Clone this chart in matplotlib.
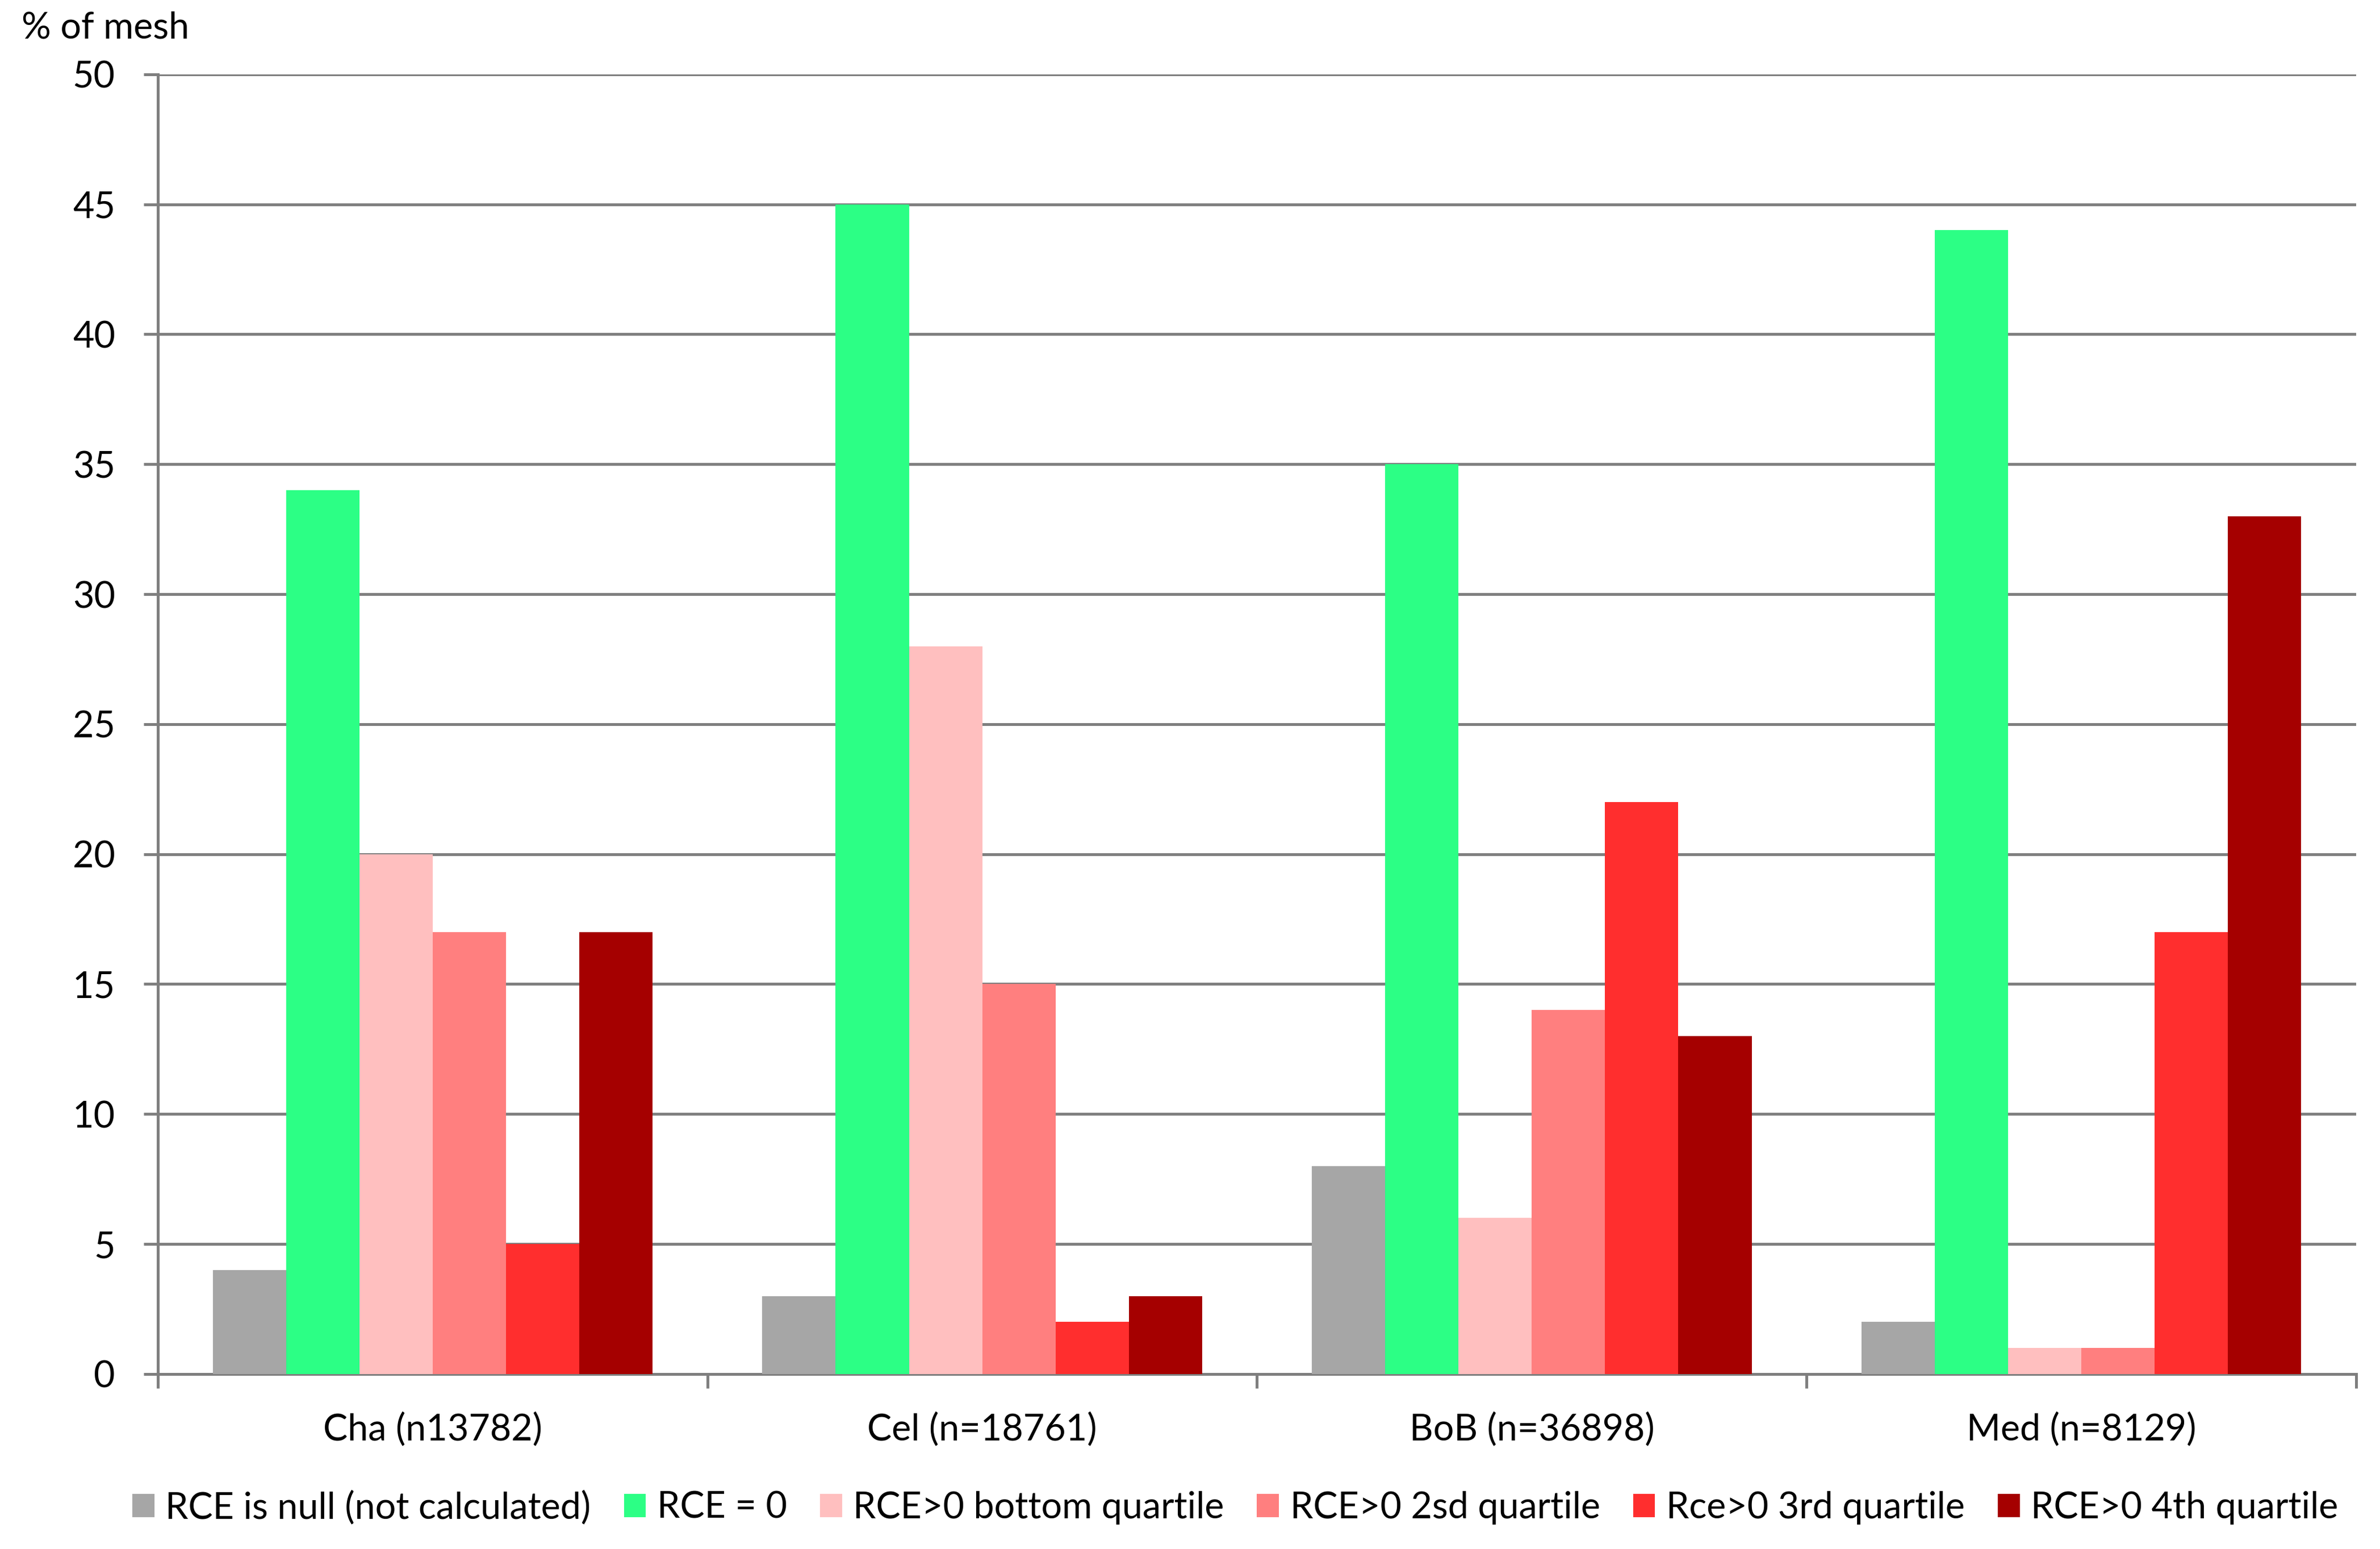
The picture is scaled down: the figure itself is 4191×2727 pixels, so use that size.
import numpy as np
from matplotlib import pyplot as plt

plt.rcParams['font.family'] = ['Lato', 'DejaVu Sans']

Regions = ['Cha (n13782)', 'Cel (n=18761)', 'BoB (n=36898)', 'Med (n=8129)']
SeriesNames = ['RCE is null (not calculated)', 'RCE = 0', 'RCE>0 bottom quartile',
               'RCE>0 2sd quartile', 'Rce>0 3rd quartile', 'RCE>0 4th quartile']
NullVals = [4, 3, 8, 2]
ZeroVals = [34, 45, 35, 44]
Q1Vals = [20, 28, 6, 1]
Q2Vals = [17, 15, 14, 1]
Q3Vals = [5, 2, 22, 17]
Q4Vals = [17, 3, 13, 33]
Colors = ['#A6A6A6', '#2CFF85', '#FFBFBF', '#FF7F7F', '#FF2E2E', '#A50000']

AllSeries = [NullVals, ZeroVals, Q1Vals, Q2Vals, Q3Vals, Q4Vals]

FS = 15.5

fig = plt.figure(figsize=(4191/300, 2727/300), dpi=300)
ax = fig.add_axes([0.0663, 0.113, 0.9237, 0.839])

X = np.arange(len(Regions))
W = 0.8 / len(AllSeries)
for i, vals in enumerate(AllSeries):
    ax.bar(X - 0.4 + W*(i+0.5), vals, width=W, color=Colors[i], label=SeriesNames[i],
           zorder=3, linewidth=0)

ax.set_xlim(-0.5, len(Regions)-0.5)
ax.set_ylim(0, 50)
ax.set_yticks(np.arange(0, 51, 5))
ax.yaxis.grid(True, color='#7F7F7F', linewidth=1.2, zorder=0)
ax.set_xticks(X)
ax.set_xticklabels(Regions, fontsize=FS)
ax.tick_params(axis='x', length=0, pad=16)
ax.set_xticks(np.arange(-0.5, len(Regions), 1), minor=True)
ax.tick_params(axis='x', which='minor', length=6, color='#7F7F7F', width=1.2)
ax.tick_params(axis='y', labelsize=FS, length=6, color='#7F7F7F', width=1.2, pad=12)
for s in ['top', 'right']:
    ax.spines[s].set_visible(False)
ax.spines['left'].set_color('#7F7F7F')
ax.spines['bottom'].set_color('#7F7F7F')
ax.spines['left'].set_linewidth(1.2)
ax.spines['bottom'].set_linewidth(1.2)

fig.text(0.009, 0.982, '% of mesh', fontsize=FS, va='center', ha='left')

fig.legend(loc='center', bbox_to_anchor=(0.519, 0.027), ncol=6, frameon=False, fontsize=FS,
           handlelength=0.6, handleheight=0.6, handletextpad=0.3, columnspacing=0.9)

plt.savefig('out.png', dpi=300)
